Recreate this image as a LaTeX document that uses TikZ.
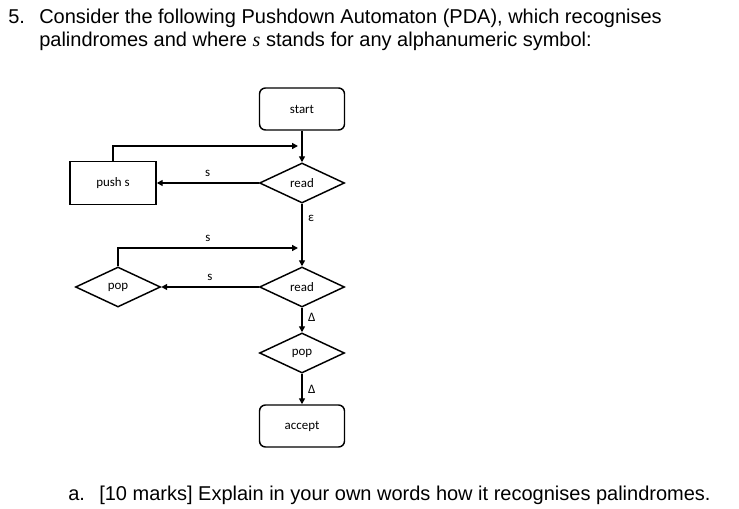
\documentclass[tikz,border=0pt]{standalone}
\usepackage{fontspec}
\setmainfont{Liberation Sans}
\newfontfamily\flowfont{Carlito}
\newfontfamily\timesfont{Liberation Serif}
\usepackage{tikz}
\usetikzlibrary{
  arrows.meta,
  positioning,
  shapes.geometric,
}

\begin{document}
\begin{tikzpicture}[
    x=0.75pt, y=-0.75pt,
    qtext/.style={font=\fontsize{15}{18}\selectfont, inner sep=0pt, anchor=base west},
    term/.style={draw, rounded corners=4.5pt, line width=1.1pt, minimum width=63.75pt,
      minimum height=31.5pt, font=\flowfont\fontsize{9.7}{11}\selectfont},
    act/.style={draw, line width=1.1pt, minimum width=64.5pt, minimum height=32.25pt,
      font=\flowfont\fontsize{9.7}{11}\selectfont},
    decide/.style={draw, diamond, aspect=2.1, inner sep=0pt, line width=1.1pt,
      minimum width=63.75pt, minimum height=30pt, font=\flowfont\fontsize{9.7}{11}\selectfont},
    lbl/.style={font=\flowfont\fontsize{9.7}{11}\selectfont, inner sep=4pt},
    flow/.style={line width=1.1pt, -{Triangle[length=4.5pt,width=4.5pt]}},
  ]
  \useasboundingbox (0,0) rectangle (739,509);

  % Question
  \node[qtext] (qnum) at (8,24) {5.};
  \node[qtext] (qline1) at (39,24) {Consider the following Pushdown Automaton (PDA), which recognises};
  \node[qtext] (qline2) at (39,47) {palindromes and where {\timesfont\itshape s} stands for any alphanumeric symbol:};

  % Flowchart nodes
  \node[term]   (start)  at (302,109) {start};
  \node[decide] (read1)  at (302,183) {read};
  \node[act]    (push)   at (113,183) {push s};
  \node[decide] (read2)  at (302,287) {read};
  \node[decide] (pop1)   at (118,287) {pop};
  \node[decide] (pop2)   at (302,353) {pop};
  \node[term]   (accept) at (302,426) {accept};
  \coordinate (back1) at (298,146);
  \coordinate (back2) at (298,248);

  % Transitions
  \draw[flow] (start) -- (read1);
  \draw[flow] (read1) -- node[lbl, above] {s} (push);
  \draw[flow] (push.north) |- (back1);
  \draw[flow] (read1) -- node[lbl, right, pos=0.23] {ε} (read2);
  \draw[flow] (read2) -- node[lbl, above] {s} (pop1);
  \draw[flow] (pop1.north) |- node[lbl, above, pos=0.75] {s} (back2);
  \draw[flow] (read2) -- node[lbl, right, pos=0.4] {Δ} (pop2);
  \draw[flow] (pop2) -- node[lbl, right] {Δ} (accept);

  % Part a
  \node[qtext] (anum) at (68,500) {a.};
  \node[qtext] (aline) at (99,500) {[10 marks] Explain in your own words how it recognises palindromes.};
\end{tikzpicture}
\end{document}
